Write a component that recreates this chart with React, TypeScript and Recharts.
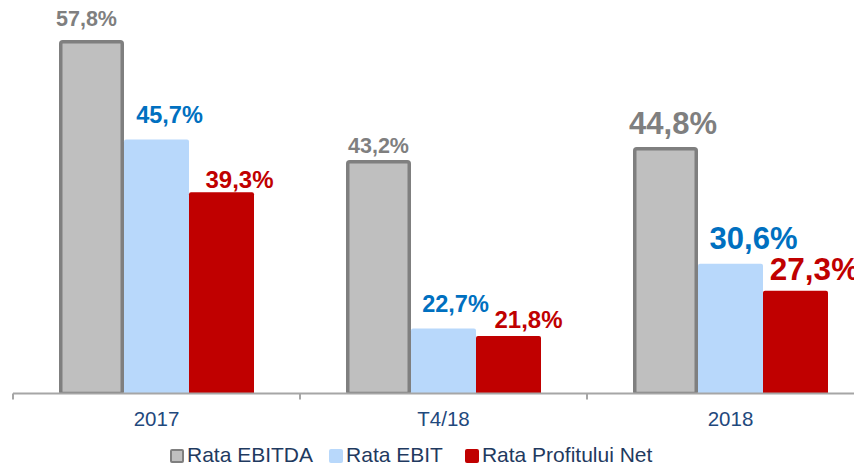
import { Bar, XAxis, YAxis, Legend, BarChart, LabelList } from 'recharts';

const CATEGORIES = ['2017', 'T4/18', '2018'];
const EBITDA = [57.8, 43.2, 44.8];
const EBIT = [45.7, 22.7, 30.6];
const NET = [39.3, 21.8, 27.3];

const SERIES = [
  { key: 'ebitda', name: 'Rata EBITDA', fill: '#bfbfbf', stroke: '#7f7f7f', text: '#7f7f7f' },
  { key: 'ebit', name: 'Rata EBIT', fill: '#b8d8fb', stroke: 'none', text: '#0070c0' },
  { key: 'net', name: 'Rata Profitului Net', fill: '#c00000', stroke: 'none', text: '#c00000' },
];

// per-bar label look: font size, shift right of bar centre, lift above bar top
const LABEL_STYLE: Record<string, { size: number; dx: number; lift: number }[]> = {
  ebitda: [
    { size: 21.5, dx: -5, lift: 14 },
    { size: 21.5, dx: 0, lift: 7 },
    { size: 31, dx: 7.5, lift: 13 },
  ],
  ebit: [
    { size: 23.5, dx: 13, lift: 17 },
    { size: 23.5, dx: 12, lift: 17 },
    { size: 31, dx: 23, lift: 15 },
  ],
  net: [
    { size: 24, dx: 18, lift: 4 },
    { size: 24, dx: 20, lift: 8 },
    { size: 31.5, dx: 19, lift: 11 },
  ],
};

const FONT = '"Liberation Sans", Arial, sans-serif';
const BAND_HALF = 143.5;

const data = CATEGORIES.map((c, i) => ({ cat: c, ebitda: EBITDA[i], ebit: EBIT[i], net: NET[i] }));

const fmt = (v: number) => v.toFixed(1).replace('.', ',') + '%';

function makeLabel(key: string, color: string) {
  return (props: any) => {
    const { x, y, width, value, index } = props;
    const s = LABEL_STYLE[key][index];
    return (
      <text
        x={x + width / 2 + s.dx}
        y={y - s.lift}
        textAnchor="middle"
        fill={color}
        fontSize={s.size}
        fontWeight="bold"
        fontFamily={FONT}
      >
        {fmt(value)}
      </text>
    );
  };
}

// gray bar keeps its thick border inside the bar footprint
function OutlinedBar(props: any) {
  const { x, y, width, height, fill } = props;
  const sw = 3.5;
  return (
    <rect
      x={x + sw / 2}
      y={y + sw / 2}
      width={width - sw}
      height={Math.max(height - sw / 2, 0)}
      rx={2}
      fill={fill}
      stroke="#7f7f7f"
      strokeWidth={sw}
    />
  );
}

function CategoryTick(props: any) {
  const { x, y, payload } = props;
  return (
    <g>
      <line x1={x - BAND_HALF} y1={y} x2={x - BAND_HALF} y2={y + 6} stroke="#a6a6a6" strokeWidth={2} />
      <text x={x} y={y + 32.5} textAnchor="middle" fill="#1f497d" fontSize={20.5} fontFamily={FONT}>
        {payload.value}
      </text>
    </g>
  );
}

function LegendRow() {
  const gaps = [16, 22, 0];
  return (
    <div style={{ height: 24, display: 'flex', paddingLeft: 157, fontFamily: FONT }}>
      {SERIES.map((s, i) => (
        <div key={s.key} style={{ display: 'flex', marginRight: gaps[i], height: 24 }}>
          <div
            style={{
              width: s.key === 'ebitda' ? 10 : 14,
              height: s.key === 'ebitda' ? 10 : 14,
              marginTop: 6,
              marginRight: 3,
              background: s.fill,
              border: s.key === 'ebitda' ? '2px solid #7f7f7f' : 'none',
              borderRadius: 2,
            }}
          />
          <span style={{ fontSize: 21, lineHeight: '24px', color: '#1f3a60' }}>{s.name}</span>
        </div>
      ))}
    </div>
  );
}

export default function App() {
  return (
    <div style={{ width: 854, height: 459, overflow: 'hidden' }}>
      <BarChart
        width={870}
        height={459}
        data={data}
        margin={{ top: 14, right: 4, bottom: 0, left: 5 }}
        barGap={0}
        barSize={65}
      >
        <XAxis
          dataKey="cat"
          axisLine={{ stroke: '#a6a6a6', strokeWidth: 2 }}
          tickLine={false}
          tickSize={0}
          tickMargin={0}
          height={49.5}
          tick={<CategoryTick />}
          interval={0}
        />
        <YAxis hide domain={[14.8, 60]} allowDataOverflow />
        <Legend verticalAlign="bottom" height={24} content={<LegendRow />} />
        {SERIES.map((s) => (
          <Bar
            key={s.key}
            dataKey={s.key}
            name={s.name}
            fill={s.fill}
            radius={[2, 2, 0, 0]}
            shape={s.key === 'ebitda' ? <OutlinedBar /> : undefined}
            isAnimationActive={false}
          >
            <LabelList dataKey={s.key} content={makeLabel(s.key, s.text)} />
          </Bar>
        ))}
      </BarChart>
    </div>
  );
}
